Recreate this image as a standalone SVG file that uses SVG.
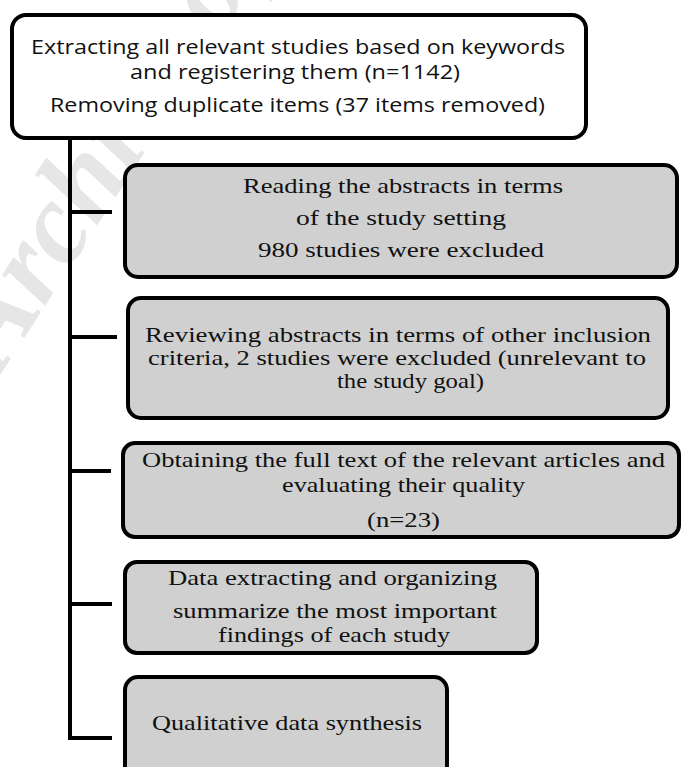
<svg xmlns="http://www.w3.org/2000/svg" width="681" height="767" viewBox="0 0 681 767">
<style>
.box{stroke:#000;stroke-width:4}
.grey{fill:#d0d0d0}
.white{fill:#fff}
.sans{font-family:"Open Sans","Liberation Sans",sans-serif;font-size:19.5px;fill:#111}
.serif{font-family:"Liberation Serif","Times New Roman",serif;font-size:21px;fill:#111}
.conn{stroke:#000;stroke-width:4;fill:none}
.wm{font-family:"Liberation Serif",serif;font-weight:bold;font-style:italic;font-size:115px;fill:#e6e6e6}
</style>
<rect width="681" height="767" fill="#fff"/>
<text class="wm" x="2" y="372" transform="rotate(-57 2 372)">Archive of SID</text>
<g id="connectors">
<path class="conn" d="M70 138 V738 H112"/>
<path class="conn" d="M70 212 H112"/>
<path class="conn" d="M70 337 H117"/>
<path class="conn" d="M70 471 H111"/>
<path class="conn" d="M70 604 H112"/>
</g>
<g id="n0">
<rect class="box white" x="12" y="15" width="574" height="123" rx="14"/>
<text class="sans" x="31" y="54" textLength="534" lengthAdjust="spacingAndGlyphs">Extracting all relevant studies based on keywords</text>
<text class="sans" x="130" y="79" textLength="330" lengthAdjust="spacingAndGlyphs">and registering them (n=1142)</text>
<text class="sans" x="50" y="112" textLength="495" lengthAdjust="spacingAndGlyphs">Removing duplicate items (37 items removed)</text>
</g>
<g id="n1">
<rect class="box grey" x="125" y="165" width="552" height="112" rx="13"/>
<text class="serif" x="243" y="193" textLength="320" lengthAdjust="spacingAndGlyphs">Reading the abstracts in terms</text>
<text class="serif" x="296" y="225" textLength="210" lengthAdjust="spacingAndGlyphs">of the study setting</text>
<text class="serif" x="258" y="257" textLength="286" lengthAdjust="spacingAndGlyphs">980 studies were excluded</text>
</g>
<g id="n2">
<rect class="box grey" x="128" y="298" width="540" height="120" rx="13"/>
<text class="serif" x="145" y="342" textLength="506" lengthAdjust="spacingAndGlyphs">Reviewing abstracts in terms of other inclusion</text>
<text class="serif" x="148" y="365" textLength="498" lengthAdjust="spacingAndGlyphs">criteria, 2 studies were excluded (unrelevant to</text>
<text class="serif" x="337" y="388" textLength="147" lengthAdjust="spacingAndGlyphs">the study  goal)</text>
</g>
<g id="n3">
<rect class="box grey" x="123" y="443" width="556" height="94" rx="12"/>
<text class="serif" x="142" y="467" textLength="523" lengthAdjust="spacingAndGlyphs">Obtaining the full text of the relevant articles and</text>
<text class="serif" x="282" y="492" textLength="243" lengthAdjust="spacingAndGlyphs">evaluating their quality</text>
<text class="serif" x="367" y="527" textLength="73" lengthAdjust="spacingAndGlyphs">(n=23)</text>
</g>
<g id="n4">
<rect class="box grey" x="125" y="562" width="412" height="91" rx="12"/>
<text class="serif" x="168" y="585" textLength="329" lengthAdjust="spacingAndGlyphs">Data extracting and organizing</text>
<text class="serif" x="173" y="618" textLength="324" lengthAdjust="spacingAndGlyphs">summarize the most important</text>
<text class="serif" x="218" y="642" textLength="232" lengthAdjust="spacingAndGlyphs">findings of each study</text>
</g>
<g id="n5">
<rect class="box grey" x="125" y="677" width="322" height="110" rx="13"/>
<text class="serif" x="152" y="730" textLength="270" lengthAdjust="spacingAndGlyphs">Qualitative data synthesis</text>
</g>
</svg>
